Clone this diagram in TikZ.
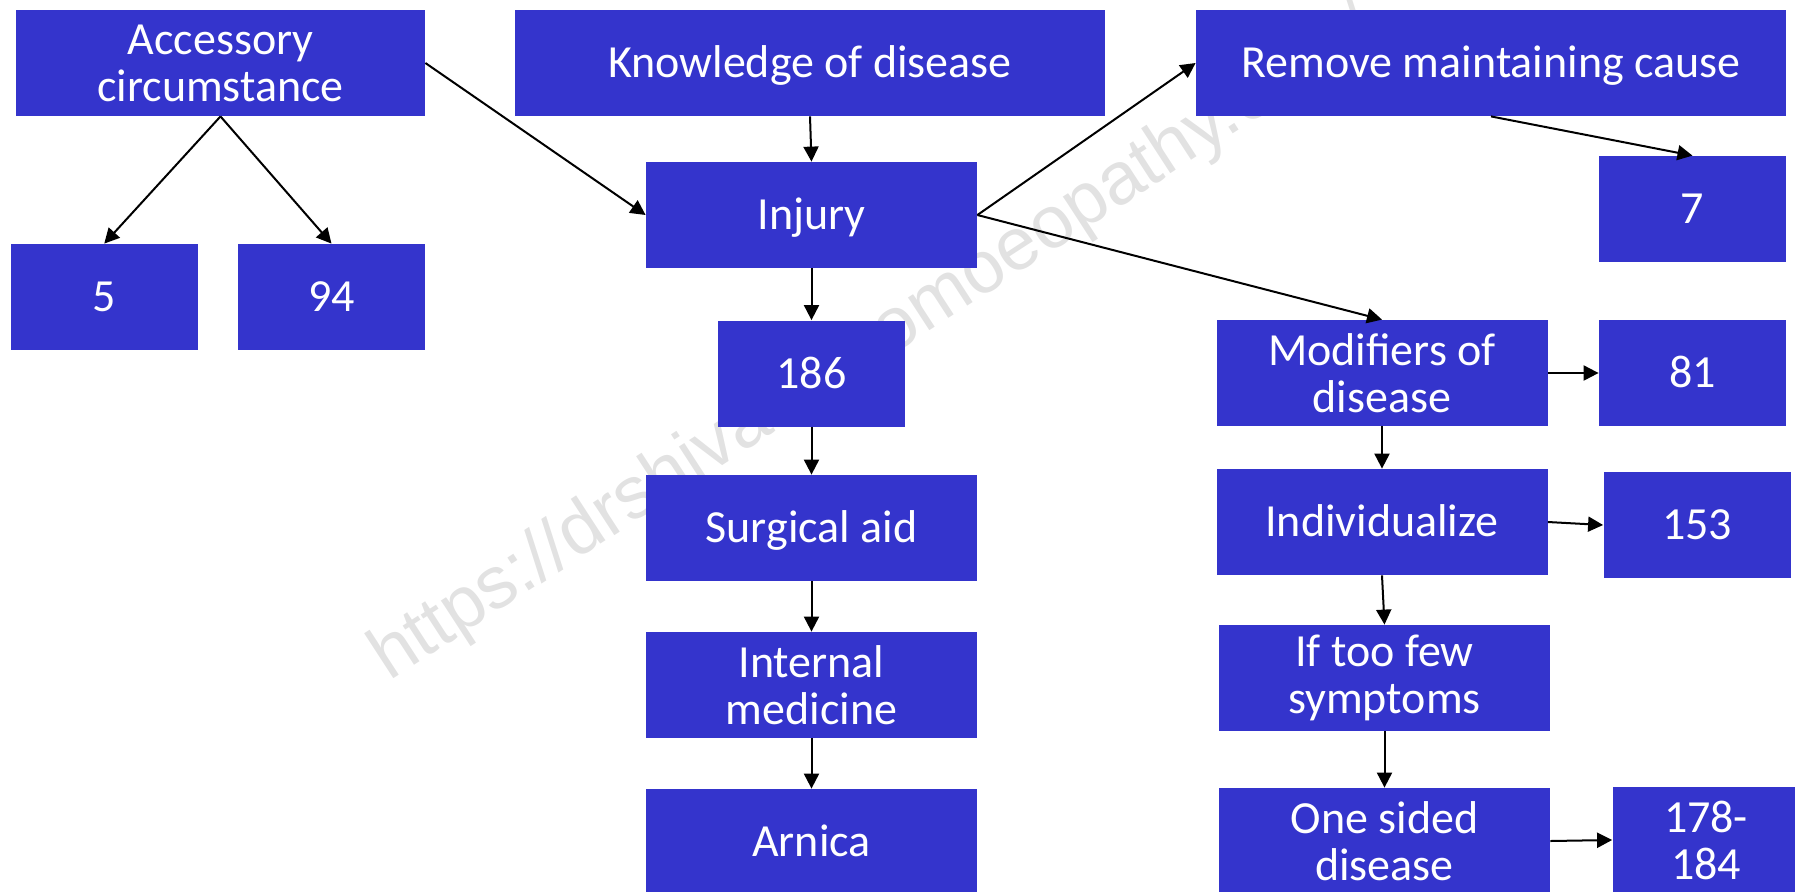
\documentclass[tikz,border=0pt]{standalone}
\usepackage{fontspec}
\setmainfont{Carlito}
\newfontfamily\wmfont{Liberation Sans}
\usetikzlibrary{arrows.meta}
\definecolor{boxblue}{RGB}{52,52,204}
\definecolor{wmgray}{RGB}{226,226,226}
\begin{document}
\begin{tikzpicture}[x=0.5pt,y=-0.5pt,
  box/.style={fill=boxblue,text=white,inner sep=0pt,align=center,font=\fontsize{23}{23.5}\selectfont},
  sz/.style 2 args={minimum width=0.5pt*#1,minimum height=0.5pt*#2},
  big/.style={sz={331}{106}},
  small/.style={sz={187}{106}},
  wide/.style={sz={590}{106}},
  sline/.style={text height=14.8pt,text depth=0pt},
  arr/.style={-{Triangle[length=7.5pt,width=7.5pt]},line width=1pt,black}]
\useasboundingbox (0,0) rectangle (1795,891);
\clip (0,0) rectangle (1795,891);
\node[font=\wmfont\fontsize{37}{37}\selectfont,text=wmgray,rotate=33,anchor=base west,inner sep=0pt] (wm) at (389,682) {https://drshiva\hspace{1.3em}homoeopathy.com/};
% left column
\node[box,sz={409}{106}] (acc) at (220.5,63) {Accessory\\circumstance};
\node[box,small,sline] (n5) at (104.25,297) {5};
\node[box,small,sline] (n94) at (331.5,297) {94};
% middle column
\node[box,wide,sline] (know) at (810,63) {Knowledge of disease};
\node[box,big,sline] (inj) at (811.5,215) {Injury};
\node[box,small,sline] (n186) at (811.5,373.5) {186};
\node[box,big,sline] (surg) at (811.5,528) {Surgical aid};
\node[box,big] (intm) at (811.5,685) {Internal\\medicine};
\node[box,big,sline] (arn) at (811.5,842) {Arnica};
% right column
\node[box,wide,sline] (rem) at (1491,63) {Remove maintaining cause};
\node[box,small,sline] (n7) at (1692.5,209) {7};
\node[box,big] (mod) at (1382,373) {Modifiers of\\disease};
\node[box,small,sline] (n81) at (1692.5,373) {81};
\node[box,big,sline] (ind) at (1382,522) {Individualize};
\node[box,small,sline] (n153) at (1697,525) {153};
\node[box,big] (few) at (1384.5,678) {If too few\\symptoms};
\node[box,big] (one) at (1384.5,841) {One sided\\disease};
\node[box,small] (n178) at (1706,840) {178-\\184};
% connectors
\draw[arr] (acc.south) -- (n5.north);
\draw[arr] (acc.south) -- (n94.north);
\draw[arr] (acc.east) -- (inj.west);
\draw[arr] (know.south) -- (inj.north);
\draw[arr] (inj.south) -- (n186.north);
\draw[arr] (n186.south) -- (surg.north);
\draw[arr] (surg.south) -- (intm.north);
\draw[arr] (intm.south) -- (arn.north);
\draw[arr] (inj.east) -- (rem.west);
\draw[arr] (inj.east) -- (mod.north);
\draw[arr] (rem.south) -- (n7.north);
\draw[arr] (mod.east) -- (n81.west);
\draw[arr] (mod.south) -- (ind.north);
\draw[arr] (ind.east) -- (n153.west);
\draw[arr] (ind.south) -- (few.north);
\draw[arr] (few.south) -- (one.north);
\draw[arr] (one.east) -- (n178.west);
\end{tikzpicture}
\end{document}
